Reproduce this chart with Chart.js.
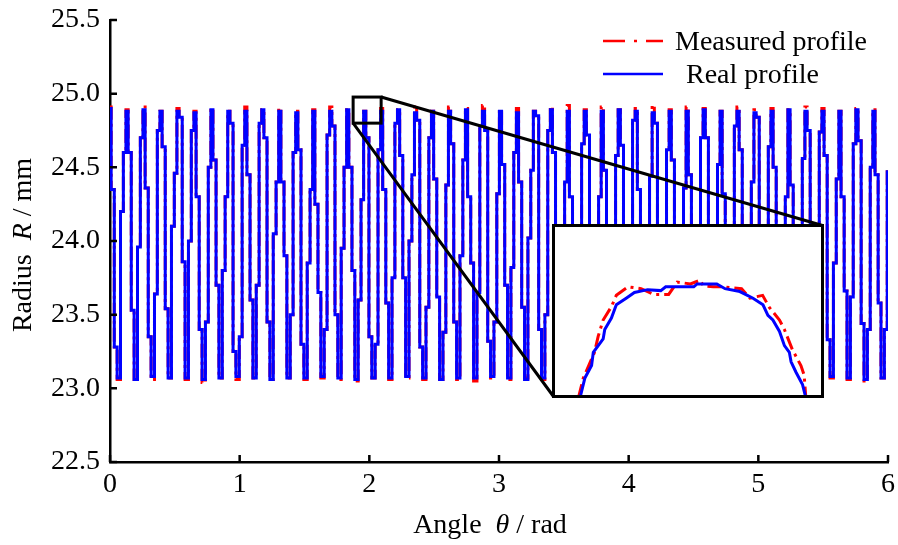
<!DOCTYPE html>
<html>
<head>
<meta charset="utf-8">
<script src="https://cdn.jsdelivr.net/npm/chart.js@4.4.1/dist/chart.umd.min.js"></script>
<style>
body{margin:0;background:#fff;}
#wrap{position:relative;width:898px;height:545px;}
#zoomBox{position:absolute;left:552px;top:224px;border:3px solid #000;background:#fff;}
#zoomBox canvas{display:block;}
</style>
</head>
<body>
<div id="wrap">
  <canvas id="profil" width="898" height="545"></canvas>
  <div id="zoomBox"><canvas id="zoomChart" width="266" height="168"></canvas></div>
</div>
<script>
/*****************************Donnees*********************************/
// angle (rad) where each tooth starts to go down
const toothStart = [0.003,0.134,0.265,0.396,0.527,0.658,0.788,0.919,1.050,1.181,
  1.312,1.443,1.574,1.705,1.836,1.967,2.097,2.228,2.359,2.490,
  2.621,2.752,2.883,3.014,3.145,3.276,3.406,3.537,3.668,3.799,
  3.930,4.061,4.192,4.323,4.454,4.585,4.715,4.846,4.977,5.108,
  5.239,5.370,5.501,5.632,5.763,5.894];

// steps seen on the falling flank (upper, lower) and rising flank (lower, upper)
const descStep1 = [24.35,24.60,24.36,24.64,24.84,24.30,24.55,24.80,24.45,24.70,
  24.40,24.62,24.25,24.78,24.50,24.70,24.35,24.58,24.82,24.42,
  24.66,24.30,24.75,24.52,24.40,24.85,24.60,24.30,24.72,24.48,
  24.65,24.35,24.80,24.55,24.45,24.70,24.32,24.62,24.84,24.50,
  24.38,24.75,24.58,24.30,24.68,24.45];
const descStep2 = [23.28,23.53,23.35,23.54,23.86,23.40,23.70,23.25,23.60,23.45,
  23.90,23.30,23.65,23.50,23.80,23.35,23.58,23.75,23.28,23.62,
  23.45,23.85,23.32,23.70,23.55,23.40,23.78,23.30,23.60,23.88,
  23.42,23.68,23.35,23.52,23.80,23.30,23.62,23.45,23.72,23.38,
  23.85,23.50,23.33,23.66,23.44,23.58];
const riseStep1 = [24.20,23.96,23.64,24.10,24.00,23.45,23.80,23.35,23.70,24.05,
  23.50,23.85,23.40,23.95,23.60,23.30,23.75,24.00,23.55,23.38,
  23.90,23.65,23.45,23.82,24.02,23.50,23.35,23.72,23.95,23.58,
  23.42,23.88,23.62,23.30,23.78,24.05,23.48,23.70,23.36,23.92,
  23.55,23.40,23.85,23.62,23.40,23.40];
const riseStep2 = [24.60,24.70,24.75,24.46,24.75,24.50,24.30,24.65,24.80,24.40,
  24.60,24.35,24.72,24.50,24.28,24.62,24.80,24.45,24.70,24.38,
  24.55,24.78,24.32,24.60,24.48,24.75,24.40,24.66,24.30,24.58,
  24.82,24.44,24.62,24.36,24.70,24.52,24.78,24.40,24.64,24.30,
  24.56,24.74,24.42,24.66,24.50,24.47];

// tip and root radius of each tooth
const realTop = [24.90,24.88,24.89,24.88,24.88,24.87,24.89,24.88,24.88,24.89,
  24.88,24.87,24.88,24.88,24.89,24.88,24.88,24.89,24.87,24.88,
  24.88,24.89,24.88,24.88,24.87,24.88,24.89,24.88,24.88,24.88,
  24.89,24.88,24.87,24.88,24.88,24.89,24.88,24.88,24.87,24.88,
  24.89,24.88,24.88,24.88,24.89,24.88];
const realBottom = [23.07,23.06,23.08,23.07,23.07,23.06,23.07,23.08,23.07,23.06,
  23.07,23.07,23.08,23.07,23.06,23.07,23.07,23.08,23.07,23.06,
  23.07,23.07,23.08,23.07,23.06,23.07,23.07,23.08,23.07,23.06,
  23.07,23.07,23.08,23.07,23.06,23.07,23.07,23.08,23.07,23.06,
  23.07,23.07,23.08,23.07,23.06,23.07];
const measuredTop = [24.91,24.89,24.91,24.88,24.90,24.88,24.90,24.88,24.91,24.89,
  24.90,24.88,24.89,24.91,24.89,24.88,24.90,24.89,24.92,24.88,
  24.91,24.90,24.92,24.89,24.90,24.88,24.91,24.92,24.89,24.91,
  24.89,24.90,24.92,24.89,24.91,24.90,24.88,24.91,24.89,24.90,
  24.89,24.91,24.90,24.88,24.90,24.89];
const measuredBottom = [23.06,23.06,23.06,23.07,23.06,23.04,23.07,23.06,23.07,23.06,
  23.07,23.06,23.07,23.06,23.05,23.07,23.06,23.07,23.06,23.06,
  23.06,23.05,23.07,23.06,23.07,23.06,23.07,23.06,23.06,23.05,
  23.07,23.07,23.06,23.07,23.05,23.07,23.06,23.07,23.06,23.05,
  23.07,23.06,23.07,23.06,23.05,23.07];

// zoomed tooth tip shown in the inset
const zoomRealTheta = [1.8953,1.8993,1.9047,1.9061,1.9141,1.9154,1.9208,1.9248,1.9328,1.9395,
  1.9502,1.9609,1.9649,1.9877,1.9904,2.0064,2.0131,2.0251,2.0358,2.0439,
  2.0479,2.0519,2.0573,2.0613,2.0653,2.0667,2.0707,2.0760,2.0787];
const zoomRealR = [24.797,24.818,24.831,24.845,24.859,24.869,24.881,24.895,24.902,24.908,
  24.911,24.910,24.914,24.914,24.917,24.917,24.912,24.909,24.902,24.895,
  24.884,24.879,24.867,24.852,24.845,24.835,24.824,24.811,24.797];
const zoomMeasTheta = [1.8940,1.8980,1.9071,1.9101,1.9141,1.9208,1.9248,1.9342,1.9449,1.9553,
  1.9673,1.9743,1.9850,1.9930,1.9954,2.0035,2.0115,2.0265,2.0332,2.0436,
  2.0492,2.0573,2.0613,2.0677,2.0747,2.0773,2.0787];
const zoomMeasR = [24.797,24.818,24.845,24.862,24.879,24.893,24.905,24.914,24.912,24.906,
  24.906,24.919,24.917,24.921,24.915,24.914,24.914,24.912,24.902,24.905,
  24.892,24.879,24.869,24.848,24.831,24.821,24.797];
const zoomWindow = {thetaMin:1.875, thetaMax:2.091, rMin:24.80, rMax:24.977};

const xTicks = [0,1,2,3,4,5,6];
const yTicks = [22.5,23.0,23.5,24.0,24.5,25.0,25.5];

/*************************Construction du profil*************************************/
const EDGE = [0.006,0.030,0.052,0.078,0.100,0.120]; // where the vertical edges sit inside a tooth

function buildProfile(top, bottom){
  let pts = [{x:0, y:top[0]}];
  toothStart.forEach((t, i) => {
    pts.push({x:t+EDGE[0], y:top[i]});
    pts.push({x:t+EDGE[0], y:descStep1[i]});
    pts.push({x:t+EDGE[1], y:descStep1[i]});
    pts.push({x:t+EDGE[1], y:descStep2[i]});
    pts.push({x:t+EDGE[2], y:descStep2[i]});
    pts.push({x:t+EDGE[2], y:bottom[i]});
    pts.push({x:t+EDGE[3], y:bottom[i]});
    pts.push({x:t+EDGE[3], y:riseStep1[i]});
    pts.push({x:t+EDGE[4], y:riseStep1[i]});
    pts.push({x:t+EDGE[4], y:riseStep2[i]});
    pts.push({x:t+EDGE[5], y:riseStep2[i]});
    if(i < toothStart.length-1){
      pts.push({x:t+EDGE[5], y:top[i+1]});
    }
  });
  return pts;
}
const toXY = (xs, ys) => xs.map((v, i) => ({x:v, y:ys[i]}));

/*************************Dessin*************************************/
const FONT = '28px "Liberation Serif", "Times New Roman", serif';
const IFONT = 'italic ' + FONT;
Chart.defaults.font.family = '"Liberation Serif", "Times New Roman", serif';
Chart.defaults.font.size = 28;
Chart.defaults.color = '#000';

function drawParts(ctx, parts, cx, cy){
  let w = 0;
  parts.forEach(p => { ctx.font = p[1] ? IFONT : FONT; w += ctx.measureText(p[0]).width; });
  let x = cx - w/2;
  parts.forEach(p => {
    ctx.font = p[1] ? IFONT : FONT;
    ctx.fillText(p[0], x, cy);
    x += ctx.measureText(p[0]).width;
  });
}

const decor = {
  id: 'decor',
  afterDraw(chart){
    const ctx = chart.ctx;
    const xs = chart.scales.x, ys = chart.scales.y;
    const area = chart.chartArea;
    ctx.save();
    // inward ticks
    ctx.strokeStyle = '#000';
    ctx.lineWidth = 2.5;
    ctx.beginPath();
    xTicks.forEach(v => {
      let p = xs.getPixelForValue(v);
      ctx.moveTo(p, area.bottom); ctx.lineTo(p, area.bottom - 7);
    });
    yTicks.forEach(v => {
      let p = ys.getPixelForValue(v);
      ctx.moveTo(area.left, p); ctx.lineTo(area.left + 7, p);
    });
    ctx.stroke();

    // small window + connectors to the inset
    const bx1 = xs.getPixelForValue(zoomWindow.thetaMin), bx2 = xs.getPixelForValue(zoomWindow.thetaMax);
    const by1 = ys.getPixelForValue(zoomWindow.rMax), by2 = ys.getPixelForValue(zoomWindow.rMin);
    const box = document.getElementById('zoomBox');
    const iL = box.offsetLeft + 1.5, iT = box.offsetTop + 1.5;
    const iR = box.offsetLeft + box.offsetWidth - 1.5, iB = box.offsetTop + box.offsetHeight - 1.5;
    ctx.lineWidth = 3;
    ctx.strokeRect(bx1, by1, bx2 - bx1, by2 - by1);
    ctx.beginPath();
    ctx.moveTo(bx2, by1); ctx.lineTo(iR, iT);
    ctx.moveTo(bx1, by2); ctx.lineTo(iL, iB);
    ctx.stroke();

    // legend
    ctx.lineWidth = 2.5;
    ctx.strokeStyle = '#ff0000';
    ctx.setLineDash([22,9,3,9]);
    ctx.beginPath(); ctx.moveTo(603, 41); ctx.lineTo(663, 41); ctx.stroke();
    ctx.setLineDash([]);
    ctx.strokeStyle = '#0000ff';
    ctx.beginPath(); ctx.moveTo(603, 74); ctx.lineTo(663, 74); ctx.stroke();
    ctx.fillStyle = '#000';
    ctx.font = FONT;
    ctx.textAlign = 'left';
    ctx.textBaseline = 'alphabetic';
    ctx.fillText('Measured profile', 675, 50);
    ctx.fillText('Real profile', 686, 83);

    // axis titles
    drawParts(ctx, [['Angle  ',0],['\u03b8',1],[' / rad',0]], 490, 533);
    ctx.translate(31, 245);
    ctx.rotate(-Math.PI/2);
    drawParts(ctx, [['Radius  ',0],['R',1],[' / mm',0]], 0, 0);
    ctx.restore();
  }
};

const ctx = document.getElementById('profil');
const profilChart = new Chart(ctx, {
  type: 'line',
  data: {
    datasets: [{
      label: 'Real profile',
      data: buildProfile(realTop, realBottom),
      borderColor: '#0000ff',
      borderWidth: 3,
      pointRadius: 0
    },
    {
      label: 'Measured profile',
      data: buildProfile(measuredTop, measuredBottom),
      borderColor: '#ff0000',
      borderWidth: 3,
      borderDash: [14,4,3,4],
      pointRadius: 0
    }]
  },
  options: {
    responsive: false,
    animation: false,
    layout: {padding: {top: 20, right: 10, left: 0, bottom: 0}},
    plugins: {legend: {display: false}, tooltip: {enabled: false}},
    scales: {
      x: {
        type: 'linear', min: 0, max: 6,
        grid: {display: false, drawTicks: false},
        border: {display: true, color: '#000', width: 2.5},
        ticks: {stepSize: 1, padding: 6, callback: v => v},
        afterFit: s => { s.height = 83; s.paddingLeft = 0; s.paddingRight = 0; }
      },
      y: {
        min: 22.5, max: 25.5,
        grid: {display: false, drawTicks: false},
        border: {display: true, color: '#000', width: 2.5},
        ticks: {stepSize: 0.5, padding: 10, callback: v => v.toFixed(1)},
        afterFit: s => { s.width = 110; s.paddingTop = 0; s.paddingBottom = 0; }
      }
    }
  },
  plugins: [decor]
});

/*************************Encart zoom*************************************/
const ctxz = document.getElementById('zoomChart');
const zoomChart = new Chart(ctxz, {
  type: 'line',
  data: {
    datasets: [{
      data: toXY(zoomRealTheta, zoomRealR),
      borderColor: '#0000ff',
      borderWidth: 3,
      pointRadius: 0
    },
    {
      data: toXY(zoomMeasTheta, zoomMeasR),
      borderColor: '#ff0000',
      borderWidth: 3,
      borderDash: [14,5,3,5],
      pointRadius: 0
    }]
  },
  options: {
    responsive: false,
    animation: false,
    layout: {padding: 0},
    plugins: {legend: {display: false}, tooltip: {enabled: false}},
    scales: {
      x: {type: 'linear', display: false, min: zoomWindow.thetaMin, max: zoomWindow.thetaMax},
      y: {display: false, min: zoomWindow.rMin, max: zoomWindow.rMax}
    }
  }
});
</script>
</body>
</html>
